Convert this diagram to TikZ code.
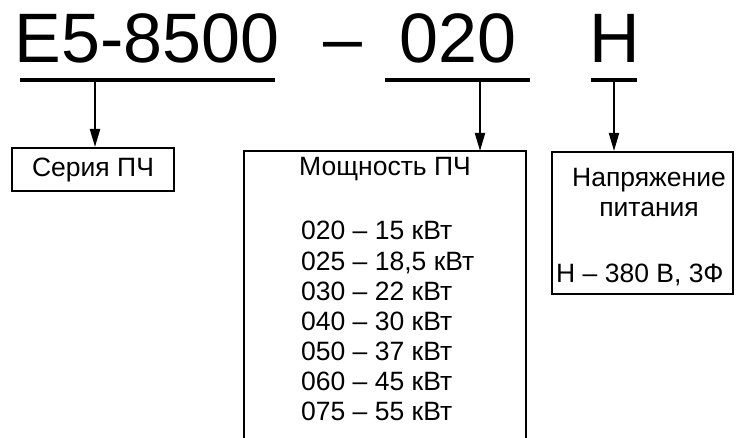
\documentclass[tikz,border=0pt]{standalone}
\usepackage{fontspec}
\setmainfont{Liberation Sans}
\usetikzlibrary{arrows.meta, positioning, calc}

\begin{document}
\begin{tikzpicture}[
    x=1pt, y=-1pt,
    code/.style={font=\fontsize{70}{84}\selectfont, anchor=base west, inner sep=0pt},
    box/.style={draw, line width=2pt, inner sep=0pt, font=\fontsize{26.5}{30}\selectfont},
    txt/.style={font=\fontsize{26.5}{30}\selectfont, inner sep=0pt},
    underline/.style={line width=4.5pt},
    pointer/.style={line width=2pt, -{Triangle[length=18pt, width=10pt]}},
]
    \useasboundingbox (0,0) rectangle (741,438);

    % Designation
    \node[code] (seriescode) at (14.5,63) {E5-8500};
    \node[code] (dash) at (323,63) {–};
    \node[code] (powercode) at (399,63) {020};
    \node[code] (voltcode) at (589.5,63) {Н};

    % Underlines
    \coordinate (u1a) at (20,80);
    \coordinate (u1b) at (275,80);
    \coordinate (u2a) at (385,80);
    \coordinate (u2b) at (530,80);
    \coordinate (u3a) at (591,80);
    \coordinate (u3b) at (637,80);
    \draw[underline] (u1a) -- (u1b);
    \draw[underline] (u2a) -- (u2b);
    \draw[underline] (u3a) -- (u3b);

    % Boxes
    \node[box, minimum width=162, minimum height=43] (series) at (93,169.5) {Серия ПЧ};
    \node[minimum width=282, minimum height=287, anchor=north west, inner sep=0pt] (power) at (244,151) {};
    \draw[line width=2pt] (power.south west) -- (power.north west) -- (power.north east) -- (power.south east);
    \node[box, minimum width=181, minimum height=142] (voltage) at (642.5,223) {};

    % Power list
    \node[txt, anchor=base] (powertitle) at (385,176) {Мощность ПЧ};
    \node[txt, anchor=base west] (p020) at (301,240) {020 – 15 кВт};
    \node[txt, anchor=base west] (p025) at (301,270) {025 – 18,5 кВт};
    \node[txt, anchor=base west] (p030) at (301,300) {030 – 22 кВт};
    \node[txt, anchor=base west] (p040) at (301,330) {040 – 30 кВт};
    \node[txt, anchor=base west] (p050) at (301,360) {050 – 37 кВт};
    \node[txt, anchor=base west] (p060) at (301,390) {060 – 45 кВт};
    \node[txt, anchor=base west] (p075) at (301,420) {075 – 55 кВт};

    % Voltage text
    \node[txt, anchor=base] (volttitle) at (649,187) {Напряжение};
    \node[txt, anchor=base] (volttitle2) at (649,217) {питания};
    \node[txt, anchor=base west] (v380) at (556,282) {Н – 380 В, 3Ф};

    % Arrows
    \coordinate (a1) at (95,80);
    \coordinate (a2) at (480,80);
    \coordinate (a3) at (614,80);
    \draw[pointer] (a1) -- (a1 |- series.north);
    \draw[pointer] (a2) -- (a2 |- power.north);
    \draw[pointer] (a3) -- (a3 |- voltage.north);

\end{tikzpicture}
\end{document}
